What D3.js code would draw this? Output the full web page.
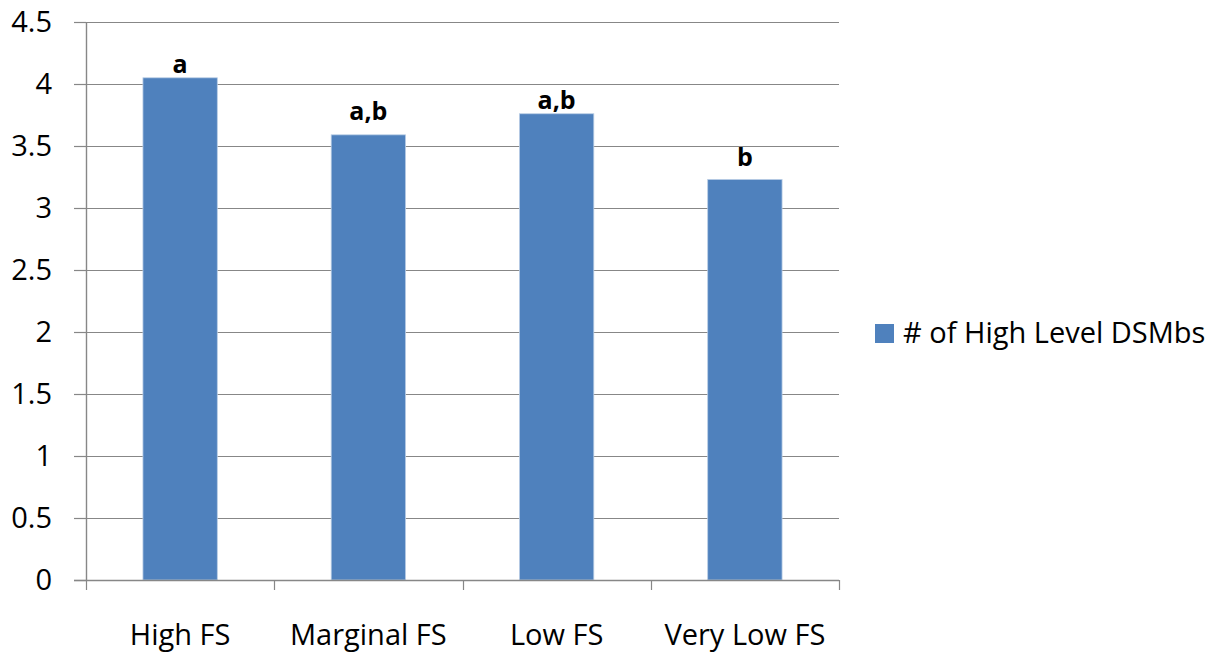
<!DOCTYPE html>
<html>
<head>
<meta charset="utf-8">
<script src="https://cdn.jsdelivr.net/npm/d3@7"></script>
<style>
  html, body { margin: 0; padding: 0; background: #fff; }
  svg { display: block; font-family: "Open Sans", Lato, "Liberation Sans", sans-serif; }
</style>
</head>
<body>
<svg id="chart" width="1227" height="656"></svg>
<script>
// Mean number of high level DSMbs by food security group
const categories = ["High FS", "Marginal FS", "Low FS", "Very Low FS"];
const values = [4.05, 3.59, 3.76, 3.23];
const sigLetters = ["a", "a,b", "a,b", "b"];
const yTicks = [0, 0.5, 1, 1.5, 2, 2.5, 3, 3.5, 4, 4.5];
const seriesName = "# of High Level DSMbs";

// gap (px) between each bar top and its significance letter
const letterGap = [5, 15, 5, 13];

const svg = d3.select("#chart");
const plotLeft = 86, plotRight = 839, plotTop = 22, plotBottom = 580;
const barColor = "#4F81BD";
const lineColor = "#878787";
const fontFam = "'Open Sans', Lato, sans-serif";
const labelSize = 29;

const x = d3.scaleBand().domain(categories).range([plotLeft, plotRight]).padding(0);
const y = d3.scaleLinear().domain([0, 4.5]).range([plotBottom, plotTop]);
const barW = x.bandwidth() * 0.395;

// horizontal gridlines with tick stubs to the left of the axis
const grid = svg.append("g");
grid.selectAll("line").data(yTicks.filter(d => d > 0)).join("line")
  .attr("x1", plotLeft - 12).attr("x2", plotRight)
  .attr("y1", d => Math.round(y(d)) + 0.5).attr("y2", d => Math.round(y(d)) + 0.5)
  .attr("stroke", lineColor).attr("stroke-width", 1.2);

// y axis
const yAxis = svg.append("g").attr("transform", `translate(${plotLeft},0)`)
  .call(d3.axisLeft(y).tickValues(yTicks).tickSize(12).tickPadding(22)
    .tickFormat(d => String(d)));
yAxis.select(".domain").attr("stroke", lineColor).attr("stroke-width", 1.4)
  .attr("d", `M0.5,${plotTop}V${plotBottom}`);
yAxis.selectAll(".tick line").attr("stroke", lineColor).attr("stroke-width", 1.2);
yAxis.selectAll(".tick text").attr("font-size", labelSize).attr("fill", "#000")
  .attr("font-family", fontFam).attr("dy", "0.34em");

// bars
svg.append("g").selectAll("rect").data(values).join("rect")
  .attr("x", (d, i) => x(categories[i]) + (x.bandwidth() - barW) / 2)
  .attr("y", d => y(d))
  .attr("width", barW)
  .attr("height", d => y(0) - y(d))
  .attr("fill", barColor)
  .attr("stroke", "#b9cde5").attr("stroke-width", 0.8);

// x axis with category boundary ticks
const xAxisG = svg.append("g");
xAxisG.append("line").attr("x1", plotLeft - 12).attr("x2", plotRight)
  .attr("y1", plotBottom + 0.5).attr("y2", plotBottom + 0.5)
  .attr("stroke", lineColor).attr("stroke-width", 1.4);
const bounds = categories.map(c => x(c)).concat([plotRight]);
xAxisG.selectAll("line.b").data(bounds).join("line").attr("class", "b")
  .attr("x1", d => Math.round(d) + 0.5).attr("x2", d => Math.round(d) + 0.5)
  .attr("y1", plotBottom).attr("y2", plotBottom + 10)
  .attr("stroke", lineColor).attr("stroke-width", 1.2);
xAxisG.selectAll("text").data(categories).join("text")
  .attr("x", d => x(d) + x.bandwidth() / 2)
  .attr("y", 645)
  .attr("text-anchor", "middle")
  .attr("font-size", labelSize)
  .text(d => d);

// significance letters
svg.append("g").selectAll("text").data(values).join("text")
  .attr("x", (d, i) => x(categories[i]) + x.bandwidth() / 2)
  .attr("y", (d, i) => y(d) - letterGap[i])
  .attr("text-anchor", "middle")
  .attr("font-size", 25).attr("font-weight", "bold")
  .text((d, i) => sigLetters[i]);

// legend
const lg = svg.append("g").attr("transform", "translate(875,324)");
lg.append("rect").attr("width", 19).attr("height", 19).attr("fill", barColor);
lg.append("text").attr("x", 28).attr("y", 19).attr("font-size", labelSize).text(seriesName);
</script>
</body>
</html>
